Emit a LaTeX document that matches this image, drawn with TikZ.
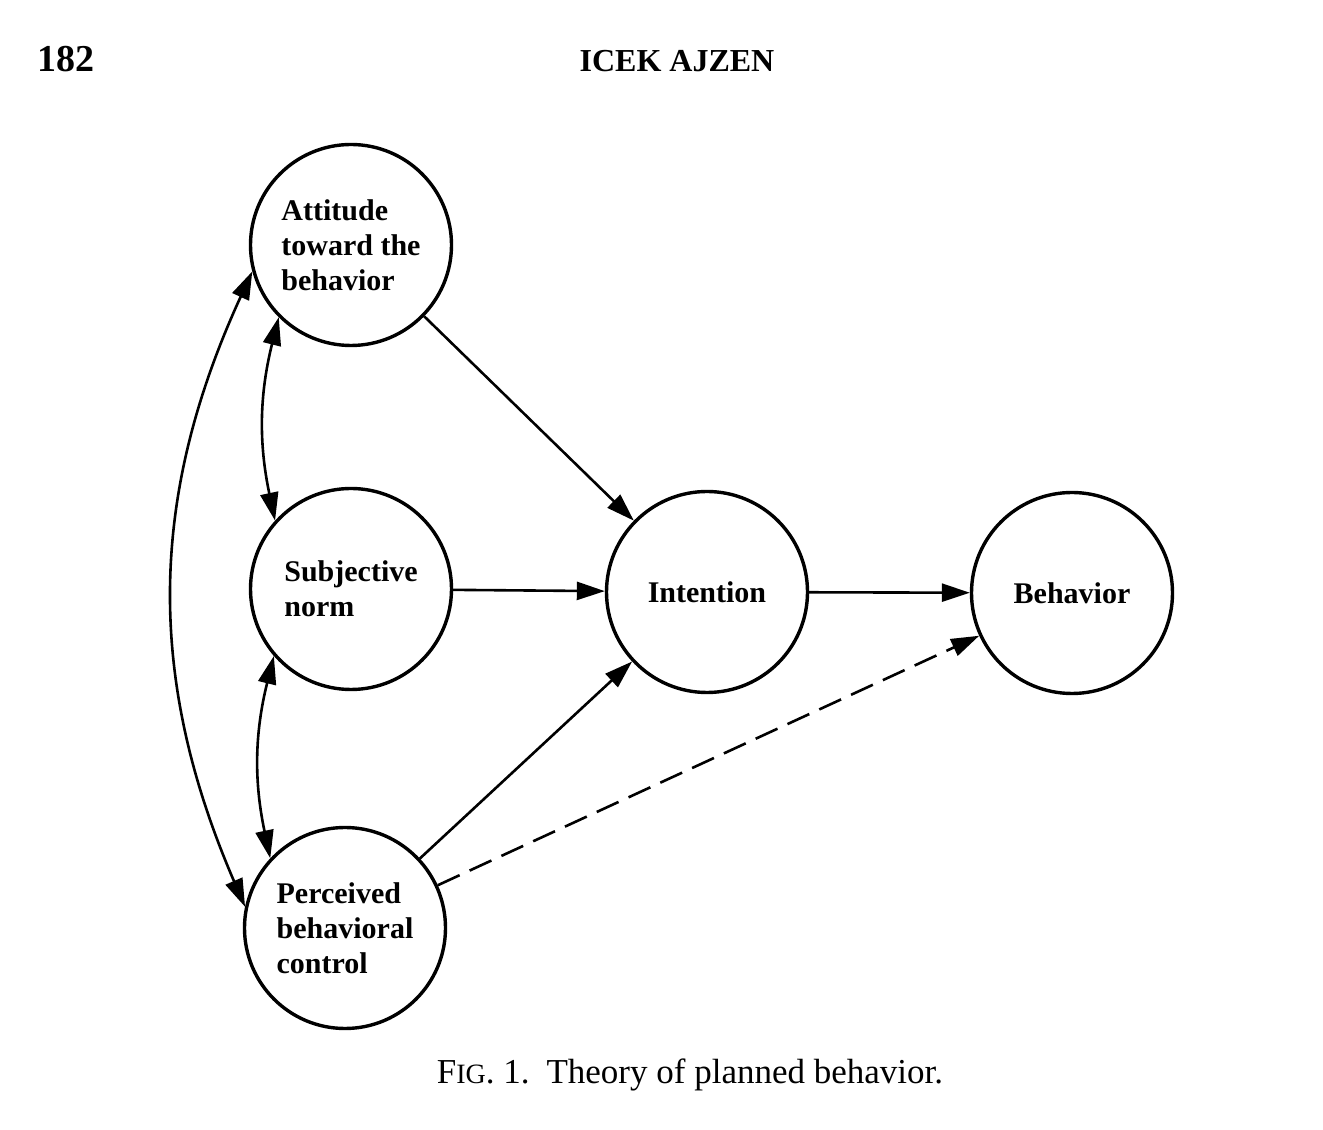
\documentclass[tikz,border=0pt]{standalone}
\usepackage{fontspec}
\setmainfont{Liberation Serif}
\usetikzlibrary{arrows.meta}
\tikzset{
  state/.style={draw, circle, line width=3.4pt, outer sep=1.7pt, minimum size=201pt, inner sep=0pt,
    align=left, font=\bfseries\fontsize{30}{35}\selectfont},
  conn/.style={line width=2.6pt, -{Triangle[length=28pt,width=18pt]}},
  dconn/.style={line width=2.6pt, {Triangle[length=28pt,width=18pt]}-{Triangle[length=28pt,width=18pt]}},
  dashconn/.style={conn, dash pattern=on 24pt off 11pt},
  header/.style={anchor=base, inner sep=0pt},
}
\begin{document}
\begin{tikzpicture}[x=1pt,y=1pt]
\useasboundingbox (0,0) rectangle (1323,1130);
\fill[white] (0,0) rectangle (1323,1130);
% header
\node[header, font=\bfseries\fontsize{38}{40}\selectfont] (pg) at (65.5,1058) {182};
\node[header, font=\bfseries\fontsize{32}{40}\selectfont] (auth) at (677,1058) {ICEK AJZEN};
% nodes
\node[state] (A) at (351,885) {Attitude\\toward the\\behavior};
\node[state] (S) at (351,541) {Subjective\\norm};
\node[state] (P) at (345,202) {Perceived\\behavioral\\control};
\node[state] (I) at (707,538) {Intention};
\node[state] (B) at (1072,537) {Behavior};
% connectors
\draw[conn] (A) -- (I);
\draw[conn] (S) -- (I);
\draw[conn] (P) -- (I);
\draw[conn] (I) -- (B);
\draw[dashconn] (P) -- (B);
\draw[dconn] (A.225) to[bend right=13] (S.138);
\draw[dconn] (S.221) to[bend right=13] (P.137);
\draw[dconn] (A.195) to[bend right=24] (P.168);
% caption
\node[anchor=base, inner sep=0pt, font=\fontsize{35}{40}\selectfont] (cap) at (690,46)
  {F{\fontsize{28}{30}\selectfont IG}. 1.\hspace{0.15em} Theory of planned behavior.};
\end{tikzpicture}
\end{document}
